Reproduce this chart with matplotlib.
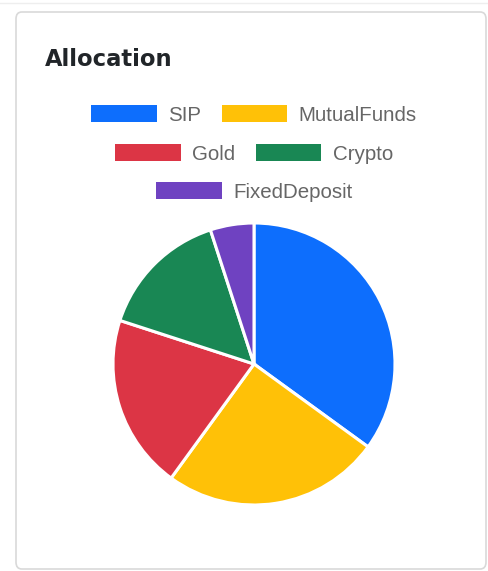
import matplotlib
matplotlib.use("Agg")
import matplotlib.pyplot as plt
from matplotlib.patches import FancyBboxPatch, Patch

# data
labels = ["SIP", "MutualFunds", "Gold", "Crypto", "FixedDeposit"]
values = [35, 25, 20, 15, 5]
colors = ["#0d6efd", "#ffc107", "#dc3545", "#198754", "#6f42c1"]
legend_rows = [[0, 1], [2, 3], [4]]

W, H = 488, 571
fig = plt.figure(figsize=(W / 100, H / 100), dpi=100)

def fx(px):
    return px / W

def fy(py):
    return 1 - py / H

# card background (kept behind the pie axes)
card = FancyBboxPatch((fx(16), fy(569)), fx(486) - fx(16), fy(12) - fy(569),
                      boxstyle="round,pad=0,rounding_size=0.012",
                      transform=fig.transFigure, facecolor="white",
                      edgecolor="#d9d9d9", linewidth=1.2, zorder=-10)
fig.add_artist(card)
fig.add_artist(plt.Line2D([0, 1], [fy(3), fy(3)], color="#eeeeee", lw=1,
                          transform=fig.transFigure, zorder=-10))

fig.text(fx(45), fy(60), "Allocation", fontsize=16.3, fontweight="bold",
         color="#212529", va="center", ha="left", family="DejaVu Sans")

# legend, one centred row at a time like chart.js
row_y = [115, 154, 192]
for r, idx in enumerate(legend_rows):
    handles = [Patch(facecolor=colors[i], edgecolor="none") for i in idx]
    leg = fig.legend(handles, [labels[i] for i in idx], loc="center",
                     bbox_to_anchor=(fx(254), fy(row_y[r])), ncol=len(idx),
                     frameon=False, handlelength=3.2, handleheight=0.85,
                     handletextpad=0.55, columnspacing=1.0, borderpad=0,
                     prop={"family": "Liberation Sans", "size": 14.8})
    for t in leg.get_texts():
        t.set_color("#666666")

# pie
cx, cy, rad = 254, 364, 141
ax = fig.add_axes([fx(cx - rad), fy(cy + rad), 2 * rad / W, 2 * rad / H])
ax.pie(values, colors=colors, startangle=90, counterclock=False,
       wedgeprops={"edgecolor": "white", "linewidth": 2.2})
ax.set_xlim(-1, 1)
ax.set_ylim(-1, 1)
ax.axis("off")

fig.savefig("out.png", dpi=100)
